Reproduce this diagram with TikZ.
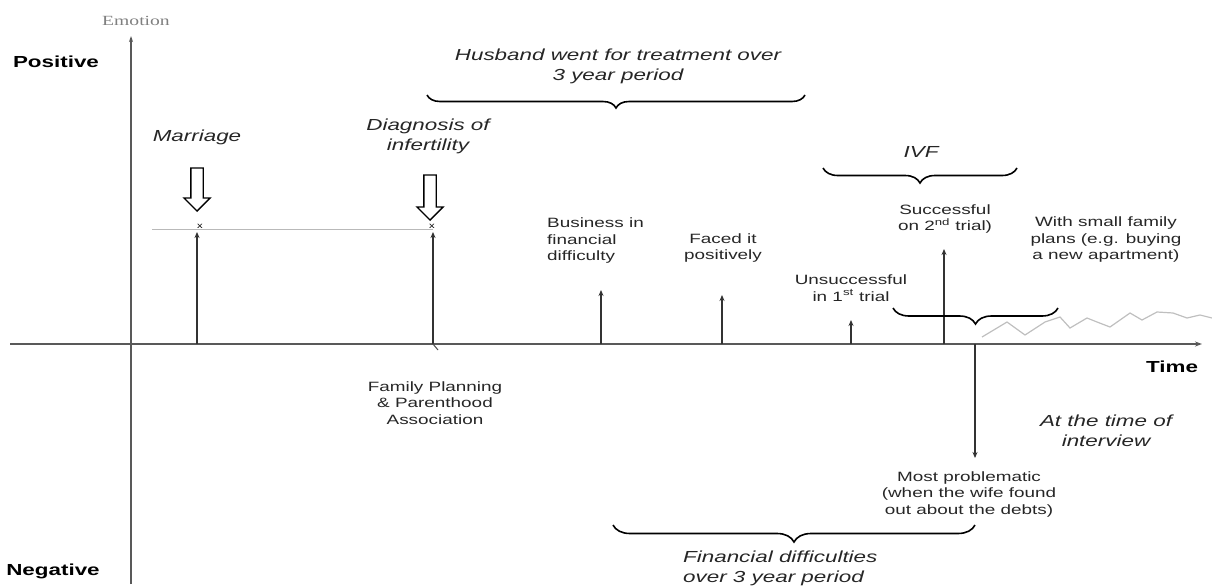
\documentclass[tikz,border=0pt]{standalone}
\usepackage{fontspec}
\usetikzlibrary{arrows.meta,decorations.pathreplacing,shapes.arrows}
\newfontfamily\widesans[FakeStretch=1.4]{Liberation Sans}
\newfontfamily\wideserif[FakeStretch=1.4]{Liberation Serif}
\tikzset{
  lbl/.style={font=\widesans\fontsize{13.5}{16.5}\selectfont, align=center, inner sep=0pt, text=black!85},
  note/.style={font=\widesans\itshape\fontsize{16}{20}\selectfont, align=center, inner sep=0pt, text=black!85},
  pole/.style={font=\widesans\bfseries\fontsize{16}{19}\selectfont, inner sep=0pt},
  axis/.style={line width=2pt, black!65},
  event/.style={line width=1.4pt, black!80, -{Stealth[length=6pt,width=5pt]}},
  hollow/.style={single arrow, draw, line width=1.3pt, shape border rotate=270, inner sep=5.5pt,
    single arrow head extend=7pt, single arrow head indent=0pt},
  curly/.style={line width=1.6pt, decorate, decoration={brace, mirror, amplitude=#1}},
  wiggle/.style={gray!50, line width=1.2pt}
}
\begin{document}
\begin{tikzpicture}[x=1pt,y=-1pt]
\useasboundingbox (0,0) rectangle (1212,587);
% axes
\coordinate (west) at (10,344);
\coordinate (east) at (1202,344);
\coordinate (south) at (131,584);
\coordinate (north) at (131,36);
\draw[axis,-{Stealth[length=7pt,width=5pt]}] (west) -- (east);
\draw[axis,-{Stealth[length=6pt,width=4pt]}] (south) -- (north);
\node[font=\wideserif\fontsize{14}{16}\selectfont, text=black!50, inner sep=0pt] (emotion) at (136,21) {Emotion};
\node[pole] (positive) at (56,62) {Positive};
\node[pole] (negative) at (53,571) {Negative};
\node[pole] (time) at (1172,367) {Time};

% events on the time line
\foreach \name/\x/\top in {marr/197/232, diag/433/232, biz/601/290, faced/722/295, fail/851/320, succ/944/249}{
  \coordinate (\name-base) at (\x,344);
  \coordinate (\name-top) at (\x,\top);
  \draw[event] (\name-base) -- (\name-top);
}
\coordinate (level) at (152,229);
\draw[gray!55, line width=0.8pt] (level) -- (level -| diag-top);
\node[font=\widesans\fontsize{8}{8}\selectfont, inner sep=0pt] (marr-x) at (200,226) {x};
\node[font=\widesans\fontsize{8}{8}\selectfont, inner sep=0pt] (diag-x) at (432,226) {x};
\draw[line width=1pt, black!70] (diag-base) -- ++(5,6);

\node[hollow, minimum height=43pt] (marr-arrow) at (197,186.5) {};
\node[hollow, minimum height=45pt] (diag-arrow) at (430,194.5) {};

\node[note] (marr-lbl) at (197,137) {Marriage};
\node[note] (diag-lbl) at (428,136) {Diagnosis of\\infertility};
\node[note] (husband) at (618,66) {Husband went for treatment over\\3 year period};
\node[note] (ivf) at (921,152) {IVF};
\node[lbl] (succ-lbl) at (945,219) {Successful\\on 2\textsuperscript{nd} trial)};
\node[lbl] (plans) at (1106,240) {With small family\\plans (e.g. buying\\a new apartment)};
\node[lbl, align=left, anchor=west] (biz-lbl) at (547,241) {Business in\\financial\\difficulty};
\node[lbl] (faced-lbl) at (723,248) {Faced it\\positively};
\node[lbl] (fail-lbl) at (851,288) {Unsuccessful\\in 1\textsuperscript{st} trial};
\node[lbl] (fpa) at (435,403) {Family Planning\\\& Parenthood\\Association};
\node[lbl] (worst) at (969,494) {Most problematic\\(when the wife found\\out about the debts)};
\node[note] (now) at (1106,431) {At the time of\\interview};
\node[note, align=left, anchor=west] (money) at (683,568) {Financial difficulties\\over 3 year period};

% low point
\coordinate (worst-base) at (975,344);
\coordinate (worst-tip) at (975,458);
\draw[event] (worst-base) -- (worst-tip);

% periods
\coordinate (husb-w) at (427,95);  \coordinate (husb-e) at (805,95);
\coordinate (ivf-w) at (823,168);  \coordinate (ivf-e) at (1017,168);
\coordinate (now-w) at (893,308);  \coordinate (now-e) at (1058,308);
\coordinate (money-w) at (613,525); \coordinate (money-e) at (975,525);
\draw[curly=13] (husb-w) -- (husb-e);
\draw[curly=15] (ivf-w) -- (ivf-e);
\draw[curly=16] (now-w) -- (now-e);
\draw[curly=17] (money-w) -- (money-e);

% after the birth
\draw[wiggle] (982,337) -- (1007,322) -- (1025,335) -- (1045,322) -- (1060,317) -- (1070,328)
  -- (1087,318) -- (1097,322) -- (1110,327) -- (1130,313) -- (1142,320) -- (1157,312)
  -- (1173,313) -- (1187,318) -- (1200,315) -- (1212,318);
\end{tikzpicture}
\end{document}
